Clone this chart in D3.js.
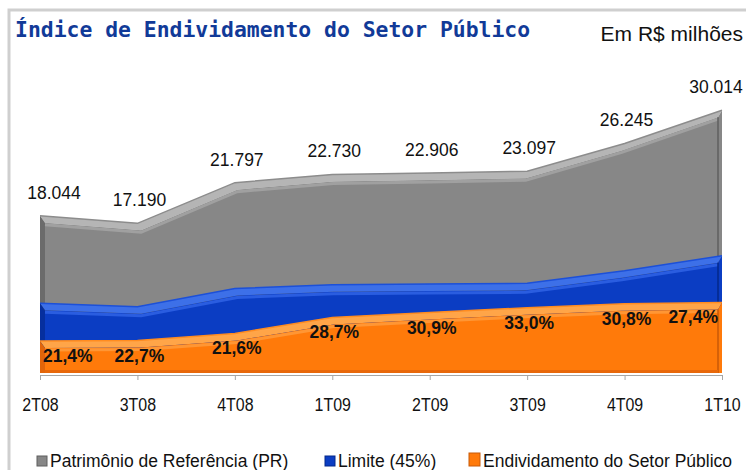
<!DOCTYPE html>
<html>
<head>
<meta charset="utf-8">
<script src="https://cdn.jsdelivr.net/npm/d3@7"></script>
<style>
  body { margin: 0; background: #fff; }
</style>
</head>
<body>
<div id="chart"></div>
<script>
// quarters on the x axis
const quarters = ["2T08", "3T08", "4T08", "1T09", "2T09", "3T09", "4T09", "1T10"];
// Patrimonio de Referencia (PR), R$ milhoes
const patrimonio = [18044, 17190, 21797, 22730, 22906, 23097, 26245, 30014];
// Limite (45% do PR)
const limite = [8120, 7736, 9809, 10229, 10308, 10394, 11810, 13506];
// Endividamento do Setor Publico
const endividamento = [3861, 3902, 4708, 6524, 7078, 7622, 8083, 8224];
// labels printed on the chart
const prLabels = ["18.044", "17.190", "21.797", "22.730", "22.906", "23.097", "26.245", "30.014"];
const pctLabels = ["21,4%", "22,7%", "21,6%", "28,7%", "30,9%", "33,0%", "30,8%", "27,4%"];
const legendNames = ["Patrimônio de Referência (PR)", "Limite (45%)", "Endividamento do Setor Público"];

(function() {
    const svgWidth = 746;
    const svgHeight = 470;
    const base = 375;   // axis line
    const depth = 7;    // 3d offset of the front face

    const svg = d3.select("#chart")
        .append("svg")
        .attr("width", svgWidth)
        .attr("height", svgHeight)
        .style("font-family", "'Liberation Sans', Arial, sans-serif");

    // light frame
    svg.append("path")
        .attr("d", `M9,${svgHeight} V10 H${svgWidth}`)
        .attr("fill", "none")
        .attr("stroke", "#cfcfcf")
        .attr("stroke-width", 3);

    svg.append("text")
        .attr("x", 15)
        .attr("y", 37)
        .style("font-family", "'DejaVu Sans Mono', monospace")
        .style("font-weight", "bold")
        .style("font-size", "21.4px")
        .attr("fill", "#113a98")
        .text("Índice de Endividamento do Setor Público");

    svg.append("text")
        .attr("x", 743)
        .attr("y", 41)
        .attr("text-anchor", "end")
        .style("font-size", "21px")
        .attr("fill", "#111")
        .text("Em R$ milhões");

    const xBack = d3.scalePoint().domain(quarters).range([40, 722]);
    const xFront = d3.scalePoint().domain(quarters).range([45, 718]);
    const yScale = d3.scaleLinear().domain([0, 34000]).range([base, 75]);

    const series = [
        { values: patrimonio, body: "#878787", top: "#b5b5b5", back: "#8c8c8c", side: "#6b6b6b", hi: "#a0a0a0", edge: "#5f5f5f" },
        { values: limite, body: "#0b3dc3", top: "#3d70e8", back: "#1c50d8", side: "#062f9e", hi: "#2a5de0", edge: "#05288a" },
        { values: endividamento, body: "#ff7a0a", top: "#ffa548", back: "#ff8c20", side: "#e2650a", hi: "#ff9634", edge: "#c85a08" }
    ];

    const chartGroup = svg.append("g");

    series.forEach(s => {
        const v = s.values;
        const n = v.length;
        const g = chartGroup.append("g");

        // top face between back ridge and front ridge
        const topPts = quarters.map((q, i) => [xBack(q), yScale(v[i])])
            .concat(quarters.slice().reverse().map((q, j) => [xFront(q), yScale(v[n - 1 - j]) + depth]));
        g.append("path")
            .attr("d", "M" + topPts.join("L") + "Z")
            .attr("fill", s.top);

        // right back side
        g.append("path")
            .attr("d", `M${xBack(quarters[n - 1])},${yScale(v[n - 1])}L${xFront(quarters[n - 1])},${yScale(v[n - 1]) + depth}L${xFront(quarters[n - 1])},${base - 2}L${xBack(quarters[n - 1])},${base - 2}Z`)
            .attr("fill", s.body);

        g.append("path")
            .attr("d", d3.line().x((d, i) => xBack(quarters[i])).y(d => yScale(d))(v))
            .attr("fill", "none")
            .attr("stroke", s.back)
            .attr("stroke-width", 1.5);

        // left side face
        g.append("path")
            .attr("d", `M${xBack(quarters[0])},${yScale(v[0])}L${xFront(quarters[0])},${yScale(v[0]) + depth}L${xFront(quarters[0])},${base - 2}L${xBack(quarters[0])},${base - 2}Z`)
            .attr("fill", s.side);

        // front face
        const area = d3.area()
            .x((d, i) => xFront(quarters[i]))
            .y0(base - 2)
            .y1(d => yScale(d) + depth);
        g.append("path")
            .attr("d", area(v))
            .attr("fill", s.body);

        g.append("path")
            .attr("d", d3.line().x((d, i) => xFront(quarters[i])).y(d => yScale(d) + depth + 2)(v))
            .attr("fill", "none")
            .attr("stroke", s.hi)
            .attr("stroke-width", 3);

        g.append("line")
            .attr("x1", xFront(quarters[n - 1]))
            .attr("x2", xFront(quarters[n - 1]))
            .attr("y1", yScale(v[n - 1]) + depth)
            .attr("y2", base - 2)
            .attr("stroke", s.edge)
            .attr("stroke-width", 1.5);
    });

    // darker strip at the bottom of the orange front
    chartGroup.append("rect")
        .attr("x", xFront(quarters[0]))
        .attr("y", base - 5)
        .attr("width", xFront(quarters[quarters.length - 1]) - xFront(quarters[0]))
        .attr("height", 3)
        .attr("fill", "#e8680a");

    const xAxis = d3.axisBottom(xBack).tickSize(5).tickSizeOuter(0).tickPadding(18);
    const axisG = svg.append("g")
        .attr("transform", `translate(0, ${base})`)
        .call(xAxis);
    axisG.select(".domain").attr("stroke", "#a6a6a6");
    axisG.selectAll(".tick line").attr("stroke", "#a6a6a6");
    // condensed look of the category labels
    axisG.selectAll(".tick text")
        .style("font-family", "'Liberation Sans', Arial, sans-serif")
        .style("font-size", "19px")
        .attr("transform", "scale(0.84,1)")
        .attr("fill", "#111");

    // PR value labels
    svg.append("g").selectAll("text")
        .data(patrimonio)
        .enter().append("text")
        .attr("x", (d, i) => xBack(quarters[i]) + (i === 0 ? 14 : i === quarters.length - 1 ? -6 : 2))
        .attr("y", d => yScale(d) - 17)
        .attr("text-anchor", "middle")
        .style("font-size", "17.5px")
        .attr("fill", "#111")
        .text((d, i) => prLabels[i]);

    // percentage labels
    svg.append("g").selectAll("text")
        .data(endividamento)
        .enter().append("text")
        .attr("x", (d, i) => i === 0 ? xFront(quarters[i]) - 2 : i === quarters.length - 1 ? xFront(quarters[i]) : xBack(quarters[i]) + 2)
        .attr("y", d => yScale(d) + depth + 14)
        .attr("text-anchor", (d, i) => i === 0 ? "start" : i === quarters.length - 1 ? "end" : "middle")
        .style("font-size", "17.5px")
        .style("font-weight", "bold")
        .attr("fill", "#111")
        .text((d, i) => pctLabels[i]);

    // legend
    const legendX = [37, 325, 469];
    const legend = svg.append("g");
    legendNames.forEach((name, i) => {
        const s = series[i];
        const w = i === 2 ? 11 : 10;
        const h = i === 2 ? 13 : 10;
        legend.append("rect")
            .attr("x", legendX[i])
            .attr("y", 466 - h)
            .attr("width", w)
            .attr("height", h)
            .attr("fill", s.body)
            .attr("stroke", s.edge)
            .attr("stroke-width", 1);
        legend.append("text")
            .attr("x", legendX[i] + w + 3)
            .attr("y", 467)
            .style("font-size", "17.5px")
            .attr("fill", "#111")
            .text(name);
    });
})();
</script>
</body>
</html>
